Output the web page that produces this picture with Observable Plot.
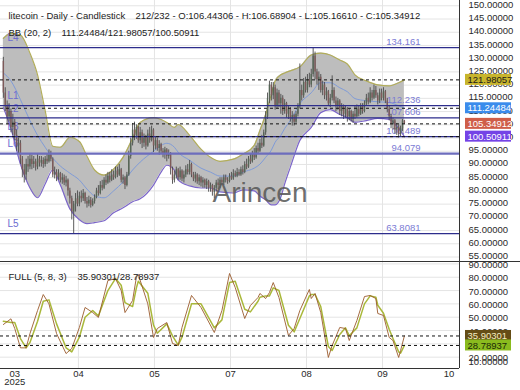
<!DOCTYPE html>
<html><head><meta charset="utf-8">
<script src="https://cdn.jsdelivr.net/npm/d3@7"></script>
<script src="https://cdn.jsdelivr.net/npm/@observablehq/plot@0.6"></script>
<style>
html,body{margin:0;padding:0;background:#fff;}
#chart{width:520px;height:390px;overflow:hidden;position:relative;}
#chart svg{display:block;}
</style></head><body><div id="chart"></div>
<script>
// ---------- DATA ----------
const titleText = "litecoin - Daily - Candlestick";
const slotCount = 232;

const opens = [129,117,112,108,110,104,106,101,97,98,
92,88,86,90,89,92,90,91,89,92,
90.5,91.5,90,92,91,93.5,92,86,87,85,
86.5,84,85,83,84,80,77,72,75,77,
75,78,77,79,76,75,76.5,74.5,76,77.5,
80,79,82,81,84,83,85.5,84,86,85,
87.5,86,88,84,85,82,86,93,98,103,
101,104,99,102,98,100,97,101.5,99,103,
97,99,96,97.5,95,94,95.5,93,94,88,
84,86,88,85,87.5,84.5,86,88,87,90,
86,84.5,86,83.5,85,83,84,82,83.5,81,
82,79.5,81,83,82,84,83,85,84,83.5,
85.5,84.5,86.5,85.5,87,86,88,87,90,89,
92,91,94,92.5,96,95,98,97,102,108,
115,120,116,119,112,117,113,115,110,113,
109,111,107,108.5,106,109,112,118,116,121,
118,122,120,124,131,125,122,123,118,120,
116,117.5,113,115,118,114,112,114,110,112,
109,111,108,110,107,109,108,111,109,112,
110,113,115,113.5,117,115,118,116,114,117,
115,117.5,114,111,108,105,106.5,103,104,101.5,
103.5,106.44306];
const highs = [130.5,119,114,113,111,109,107,103,100,99,
93,90,92,93,94,93.5,93,92,94,93,
93,92.5,93,94,95.5,95,92.5,89,88,88,
87,86.5,86,85.5,84.5,81,78,76,79,80,
79.5,80,80.5,79.5,77.5,78,77.5,77,78.5,81,
82,83.5,84,85,86,87,87,88,87.5,89,
89,90,88.5,86,85.5,87,95,100,105.5,106,
105,104.5,104,103,101.5,101,103,104,104.5,103.5,
100.5,100,99,98,96,96.5,96,95.5,94.5,89,
87.5,89,88.5,89,88,87.5,89.5,90,91.5,90.5,
87,87,86.5,86,85.5,85,84.5,84.5,84,83,
82.5,82,84,84.5,85,85,86,86,85,86.5,
87,88,87.5,88.5,88,89,89.5,91,92,93,
94,95,96,97,98,99.5,101,103,110,117,
121.5,121,121,120,118.5,118,116.5,116,114.5,113.5,
112,111.5,110,109,110,113,128,120,122.5,123,
124,124.5,126,134.2,132.5,126,125,124,121.5,121,
119,118,116.5,123.5,119,115.5,115,114.5,113,112.5,
112,111.5,111,110.5,110,112,112.5,112,113,113,
114,116.5,117,119,118,120,119.5,117,118.5,118.5,
119,118,115,112,109,107.5,107,105.5,105,104.5,
107,106.68904];
const lows = [115,110,105,106,102,101,99,95,94,90,
85,83,84,87,88,88,88.5,87.5,88,89,
89,88.5,89,90,90.5,91,85,84.5,83.5,84,
83,82.5,82,81.5,78,75,69,63.8081,72,74,
74,75.5,76,75,73.5,74,73.5,74,75,77,
78,78.5,80,80.5,82,82.5,83,83.5,84,84.5,
85,85.5,83,82.5,80.5,81.5,85.5,92,97,99,
99.5,98,97.5,96,96.5,95.5,96.5,98,98.5,94.5,
95.5,95,93.5,94,92.5,92,91,92,86,82.5,
83,84.5,84,84,83.5,83,85,86,86,85,
83.5,83,82.5,82,81.5,81,81,80.5,79.5,79.5,
78,77,79.5,80.5,81,82,82,83,82.5,83,
84,84,85,85,85.5,85.5,86,86.5,88,88.5,
90,90.5,91.5,92,94,94.5,96,96.5,101,107,
113,114,114.5,110.5,111,111.5,109,108.5,109,107.5,
107,106,104.5,104.5,105.5,108,111,114,115,117,
117,119,119,123,122,120,118,117,116,114.5,
114,112,111.5,114,113,110,110.5,108.5,108,107,
107.5,106,106.5,106,105.5,107,107.5,108,108.5,109,
109.5,112,112.5,113,114,114.5,115,112.5,113,114,
114,113,109.5,106.5,103.5,103,101.5,101,100,100.5,
102.5,105.1661];
const closes = [117,112,108,110,104,106,101,97,98,92,
88,86,90,89,92,90,91,89,92,90.5,
91.5,90,92,91,93.5,92,86,87,85,86.5,
84,85,83,84,80,77,72,75,77,75,
78,77,79,76,75,76.5,74.5,76,77.5,80,
79,82,81,84,83,85.5,84,86,85,87.5,
86,88,84,85,82,86,93,98,103,101,
104,99,102,98,100,97,101.5,99,103,97,
99,96,97.5,95,94,95.5,93,94,88,84,
86,88,85,87.5,84.5,86,88,87,90,86,
84.5,86,83.5,85,83,84,82,83.5,81,82,
79.5,81,83,82,84,83,85,84,83.5,85.5,
84.5,86.5,85.5,87,86,88,87,90,89,92,
91,94,92.5,96,95,98,97,102,108,115,
120,116,119,112,117,113,115,110,113,109,
111,107,108.5,106,109,112,118,116,121,118,
122,120,124,131,125,122,123,118,120,116,
117.5,113,115,118,114,112,114,110,112,109,
111,108,110,107,109,108,111,109,112,110,
113,115,113.5,117,115,118,116,114,117,115,
117.5,114,111,108,105,106.5,103,104,101.5,103.5,
106.44306,105.34912];

// Bollinger Bands (20, 2)
const bbIdx   = [0,4,9,14,18,22,26,30,35,40,44,48,53,58,63,68,72,79,83,86,90,92,98,104,109,114,121,126,132,135,138,141,143,146,148,151,156,162,167,172,177,181,185,191,197,203,208,211];
const bbUpper = [137.7,139.6,138.9,132.1,123.9,110.4,96.9,96.5,100.2,98.7,93.1,87.9,86.0,88.2,92.7,99.9,105.9,107.7,107.0,105.9,104.0,105.1,101.0,95.8,92.7,91.2,92.0,93.9,97.2,102.9,108.9,116.4,121.6,123.9,124.6,125.4,126.9,131.4,132.1,131.4,129.5,128.0,123.9,121.6,120.1,119.7,120.9,121.98057];
const bbMid   = [124.6,121.6,114.5,106.6,101.0,96.5,92.4,89.4,86.7,84.1,80.7,78.1,77.4,80.0,83.4,87.9,90.9,95.0,97.2,98.0,96.5,94.6,91.6,88.6,87.1,85.6,85.6,87.1,88.6,90.1,92.7,95.4,98.4,101.0,103.6,106.6,113.0,117.1,120.9,120.9,119.0,117.5,114.9,114.1,113.7,113.4,112.2,111.24484];
const bbLower = [111.5,103.6,90.1,81.1,77.4,82.6,87.9,82.2,73.2,69.1,67.6,68.0,68.7,71.7,73.6,75.9,77.0,82.2,87.1,89.7,87.9,84.1,81.9,81.1,81.1,79.6,79.2,80.4,80.0,78.1,76.6,74.7,74.7,77.7,82.6,89.0,99.1,104.0,109.6,110.7,108.9,107.7,105.9,106.6,107.4,107.0,103.6,100.50911];

// Horizontal levels
const levels = [134.161, 112.236, 107.606, 100.489, 94.079, 63.8081];
const levelNames = ["L4", "L1", "L2", "L3", "L6", "L5"];

// Full stochastic (5, 8, 3)
const stochIdx = [0,4,6,9,12,14,18,21,24,28,33,36,40,43,47,50,55,59,62,64,68,70,71,76,79,81,86,89,92,94,99,104,111,115,119,122,127,130,134,135,138,140,142,145,150,153,156,161,162,164,167,171,173,177,180,182,186,190,193,196,197,200,203,205,208,209,211];
const stochK = [44.5,48.8,41.5,27,27,37.7,55,67,60,37.7,22.7,26.5,42.3,57.3,53.5,49.8,77.5,79,70,53.5,62.5,80,82,60,34.8,41.5,46,30.3,28.8,42.3,66.3,57.3,38.5,55,82.8,72.3,49,58.8,64.8,67.8,64,68.5,76,64.8,36.3,41.5,55,70.8,64,67.8,53.5,19.8,28.8,42.3,41.5,32.5,47.5,65.5,66.3,64,52.8,51.3,34.8,32.5,19.8,25,35.90301];
const stochD = [47,46,46,34,27,31,47,62,63,45,27,24,35,50,55,51,70,79,74,61,58,72,77,68,44,38,45,36,29,35,60,60,42,48,76,77,56,54,62,65,66,66,72,70,44,39,49,66,67,67,58,28,25,37,42,36,42,60,66,65,59,53,41,34,24,23,28.78937];

// Axis ticks
const priceTicks = [55,60,65,70,75,80,85,90,95,100,105,110,115,120,125,130,135,140,145,150];
const stochTicks = [10,20,30,40,50,60,70,80,90];
const monthTickIdx = [6,39.5,79.5,119.5,159.5,199.5,234.5];
const monthLabels = ["03","04","05","07","08","09","10"];
const gridIdx = [39.5,79.5,119.5,159.5,199.5];
const yearLabel = "2025";

// ---------- LAYOUT ----------
const X_DOMAIN = [-1.5, 240];
const PRICE_DOMAIN = [53.3, 152.0];
const STOCH_DOMAIN = [11.5, 91.8];
const FONT = "'Liberation Sans', Arial, Helvetica, sans-serif";
const FS = 9.5;

const candles = opens.map((o, i) => ({i, open: o, high: highs[i], low: lows[i], close: closes[i]}));
const bb = bbIdx.map((i, k) => ({i, upper: bbUpper[k], mid: bbMid[k], lower: bbLower[k]}));
const levelData = levels.map((v, k) => ({v, name: levelNames[k], label: String(v)}));
const stoch = stochIdx.map((i, k) => ({i, k: stochK[k], d: stochD[k]}));
const last = candles[candles.length - 1];
const lastBB = bb[bb.length - 1];
const lastSt = stoch[stoch.length - 1];
const f5 = v => v.toFixed(5);

const priceBoxes = [
  {v: lastBB.upper, fill: "#c8b52c", tc: "#1a1a1a"},
  {v: lastBB.mid, fill: "#3b8cec", tc: "#ffffff"},
  {v: last.close, fill: "#cf5e49", tc: "#ffffff"},
  {v: lastBB.lower, fill: "#7443e6", tc: "#ffffff"}
];
const stochBoxes = [
  {v: lastSt.k, fill: "#654d16", tc: "#f3ecc0"},
  {v: lastSt.d, fill: "#8abb1e", tc: "#1c2a06"}
];
const statsText = `${candles.length}/${slotCount} - O:${f5(last.open)} - H:${f5(last.high)} - L:${f5(last.low)} - C:${f5(last.close)}`;
const bbText = `${f5(lastBB.mid)}/${f5(lastBB.upper)}/${f5(lastBB.lower)}`;
const stText = `${f5(lastSt.k)}/${f5(lastSt.d)}`;

const boxMarks = (boxes) => [
  Plot.rect(boxes, {y1: "v", y2: "v", fill: "fill", insetLeft: 465, insetRight: -52, insetTop: -5.5, insetBottom: -5.5}),
  Plot.text(boxes, {frameAnchor: "right", y: "v", text: d => f5(d.v), dx: 8, textAnchor: "start", fill: "tc", fontSize: FS})
];

const topPlot = Plot.plot({
  width: 520, height: 261,
  marginTop: 0, marginRight: 61, marginBottom: 0, marginLeft: 0,
  x: {domain: X_DOMAIN, axis: null},
  y: {domain: PRICE_DOMAIN, axis: null},
  color: {type: "identity"},
  style: {fontFamily: FONT, fontSize: FS + "px", background: "#fff"},
  marks: [
    Plot.ruleY(priceTicks, {stroke: "#e4e4e4"}),
    Plot.ruleX(gridIdx, {stroke: "#e4e4e4"}),
    Plot.areaY(bb, {x: "i", y1: "lower", y2: "upper", fill: "#bdbdbd", curve: "monotone-x"}),
    Plot.line(bb, {x: "i", y: "upper", stroke: "#b2ad5a", strokeWidth: 1.2, curve: "monotone-x"}),
    Plot.line(bb, {x: "i", y: "lower", stroke: "#7c66c9", strokeWidth: 1.2, curve: "monotone-x"}),
    Plot.line(bb, {x: "i", y: "mid", stroke: "#7f9bd8", strokeWidth: 1, curve: "monotone-x"}),
    Plot.text(levelData, {frameAnchor: "right", y: "v", text: "label", dx: -39, dy: -6, textAnchor: "end", fill: "#7b7bd4", fontSize: FS}),
    Plot.text(levelData, {frameAnchor: "left", y: "v", text: "name", dx: 7, dy: -9.5, textAnchor: "start", fill: "#6b6bd0", fontSize: 10}),
    Plot.ruleX(candles, {x: "i", y1: "low", y2: "high", stroke: "#4a4a4a", strokeWidth: 0.9}),
    Plot.ruleX(candles, {x: "i", y1: "open", y2: "close", stroke: d => d.close >= d.open ? "#566656" : "#7e5a5a", strokeWidth: 1.4}),
    Plot.ruleY(levelData, {y: "v", stroke: d => d.name === "L6" ? "#6d6dbd" : "#2d2d8c", strokeWidth: d => d.name === "L6" ? 2.2 : 1.3}),
    Plot.ruleY([lastBB.upper, lastBB.mid, last.close, lastBB.lower], {stroke: "#111", strokeDasharray: "3,3"}),
    Plot.ruleX([X_DOMAIN[1]], {stroke: "#333"}),
    Plot.text(priceTicks, {frameAnchor: "right", y: d => d, text: f5, dx: 9, dy: -1, textAnchor: "start", fill: "#2a2a2a", fontSize: FS}),
    ...boxMarks(priceBoxes),
    Plot.text([titleText], {frameAnchor: "top-left", dx: 8, dy: 12, textAnchor: "start", fill: "#222", fontSize: FS}),
    Plot.text([statsText], {frameAnchor: "top-left", dx: 135, dy: 12, textAnchor: "start", fill: "#222", fontSize: FS}),
    Plot.text(["BB (20, 2)"], {frameAnchor: "top-left", dx: 8, dy: 29, textAnchor: "start", fill: "#222", fontSize: FS}),
    Plot.text([bbText], {frameAnchor: "top-left", dx: 61, dy: 29, textAnchor: "start", fill: "#222", fontSize: FS}),
    Plot.text(["Arincen"], {frameAnchor: "middle", dx: 30, dy: 62, fill: "#5a5a5a", fillOpacity: 0.9, fontSize: 28})
  ]
});

const bottomPlot = Plot.plot({
  width: 520, height: 129,
  marginTop: 0, marginRight: 61, marginBottom: 22, marginLeft: 0,
  x: {domain: X_DOMAIN, axis: null},
  y: {domain: STOCH_DOMAIN, axis: null},
  color: {type: "identity"},
  style: {fontFamily: FONT, fontSize: FS + "px", background: "#fff"},
  marks: [
    Plot.ruleY(stochTicks.filter(t => t > STOCH_DOMAIN[0]), {stroke: "#e4e4e4"}),
    Plot.ruleX(gridIdx, {stroke: "#e4e4e4"}),
    Plot.line(stoch, {x: "i", y: "d", stroke: "#a9b83a", strokeWidth: 1.5}),
    Plot.line(stoch, {x: "i", y: "k", stroke: "#9a5a2d", strokeWidth: 0.9}),
    Plot.ruleY([lastSt.k, lastSt.d], {stroke: "#111", strokeDasharray: "3,3"}),
    Plot.ruleY([STOCH_DOMAIN[1]], {stroke: "#333", insetRight: -61}),
    Plot.ruleY([STOCH_DOMAIN[0]], {stroke: "#333"}),
    Plot.ruleX([X_DOMAIN[1]], {stroke: "#333"}),
    Plot.text(stochTicks.filter(t => t > STOCH_DOMAIN[0]), {frameAnchor: "right", y: d => d, text: f5, dx: 9, dy: 1, textAnchor: "start", fill: "#2a2a2a", fontSize: FS}),
    Plot.text(stochTicks.filter(t => t < STOCH_DOMAIN[0]), {frameAnchor: "right", y: d => d, text: f5, dx: 9, dy: -9, textAnchor: "start", fill: "#2a2a2a", fontSize: FS}),
    ...boxMarks(stochBoxes),
    Plot.text(["FULL (5, 8, 3)"], {frameAnchor: "top-left", dx: 8, dy: 12, textAnchor: "start", fill: "#222", fontSize: FS}),
    Plot.text([stText], {frameAnchor: "top-left", dx: 77, dy: 12, textAnchor: "start", fill: "#222", fontSize: FS}),
    Plot.text(monthTickIdx, {x: d => d, text: (d, k) => monthLabels[k], frameAnchor: "bottom", dy: 8, fill: "#2a2a2a", fontSize: FS}),
    Plot.text([monthTickIdx[0]], {x: d => d, text: [yearLabel], frameAnchor: "bottom", dy: 16, fill: "#2a2a2a", fontSize: FS})
  ]
});

const root = document.getElementById("chart");
root.appendChild(topPlot);
root.appendChild(bottomPlot);
</script>
</body></html>
